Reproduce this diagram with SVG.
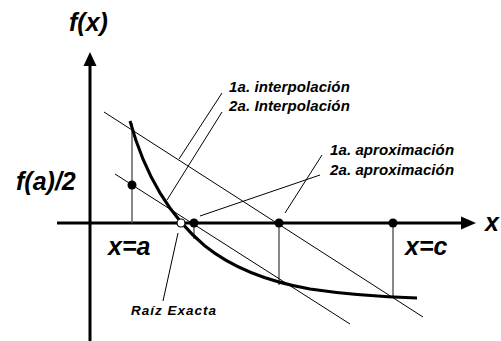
<svg xmlns="http://www.w3.org/2000/svg" width="501" height="341" viewBox="0 0 501 341">
<style>
.big{font-family:"Liberation Sans",Arial,sans-serif;font-weight:bold;font-style:italic;font-size:25px;fill:#000}
.lbl{font-family:"Liberation Sans",Arial,sans-serif;font-weight:bold;font-style:italic;font-size:15px;letter-spacing:0.1px;fill:#000}
.sm{font-family:"Liberation Sans",Arial,sans-serif;font-weight:bold;font-style:italic;font-size:13.5px;letter-spacing:1px;fill:#000}
.axis{stroke:#000;stroke-width:3;fill:none}
.thin{stroke:#000;stroke-width:1;fill:none}
.vert{stroke:#555;stroke-width:1.4;fill:none}
.dot{fill:#000}
</style>
<rect width="501" height="341" fill="#fff"/>
<g id="axes">
<line class="axis" x1="90" y1="341" x2="90" y2="63"/>
<polygon points="90,52 83.5,66 96.5,66" fill="#000"/>
<line class="axis" x1="57" y1="223" x2="463" y2="223"/>
<polygon points="476,223 461,216.5 461,229.5" fill="#000"/>
<text class="big" x="69" y="31">f(x)</text>
<text class="big" x="485" y="231">x</text>
</g>
<g id="connectors">
<line class="vert" x1="132" y1="123" x2="132" y2="223"/>
<line class="vert" x1="194" y1="223" x2="194" y2="239"/>
<line class="vert" x1="279" y1="223" x2="279" y2="285"/>
<line class="vert" x1="393" y1="223" x2="393" y2="298"/>
<line class="thin" x1="104" y1="112" x2="423" y2="317"/>
<line class="thin" x1="115" y1="174" x2="350" y2="324"/>
<line class="thin" x1="222" y1="93" x2="179" y2="159"/>
<line class="thin" x1="222" y1="112" x2="167" y2="200"/>
<line class="thin" x1="322" y1="155" x2="285" y2="213"/>
<line class="thin" x1="320" y1="175" x2="200" y2="216"/>
<line class="thin" x1="178" y1="233" x2="163" y2="301"/>
</g>
<g id="curve">
<path d="M130,121 C144,172 168,215 205,246 C235,270 270,282 310,289 C350,295 385,297 417,298" stroke="#000" stroke-width="3" fill="none"/>
</g>
<g id="points">
<circle class="dot" cx="132" cy="185" r="4.5"/>
<circle class="dot" cx="194" cy="223" r="4.5"/>
<circle class="dot" cx="279" cy="223" r="4.5"/>
<circle class="dot" cx="393" cy="223" r="4.5"/>
<circle cx="181" cy="223" r="4" fill="#fff" stroke="#000" stroke-width="1.2"/>
</g>
<g id="labels">
<text class="big" x="16" y="190">f(a)/2</text>
<text class="big" x="108" y="255">x=a</text>
<text class="big" x="405" y="255">x=c</text>
<text class="lbl" x="229" y="92">1a. interpolación</text>
<text class="lbl" x="229" y="111">2a. Interpolación</text>
<text class="lbl" x="330" y="155">1a. aproximación</text>
<text class="lbl" x="330" y="175">2a. aproximación</text>
<text class="sm" x="131" y="315">Raíz Exacta</text>
</g>
</svg>
